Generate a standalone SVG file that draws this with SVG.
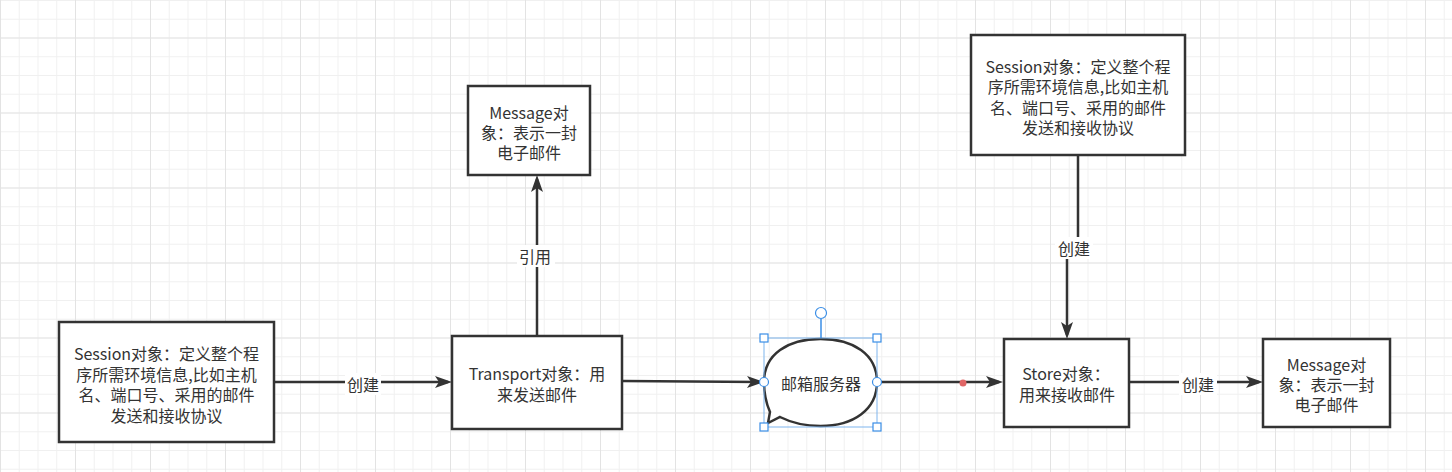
<svg xmlns="http://www.w3.org/2000/svg" width="1452" height="472" viewBox="0 0 1452 472">
<defs>
<pattern id="minor" width="18.75" height="18.75" patternUnits="userSpaceOnUse">
<path d="M0.5,0 V18.75 M0,0.5 H18.75" fill="none" stroke="#f0f0f0" stroke-width="1"/>
</pattern>
<pattern id="major" width="75" height="75" patternUnits="userSpaceOnUse" y="37.5">
<path d="M0.5,0 V75 M0,0.5 H75" fill="none" stroke="#e3e3e3" stroke-width="1"/>
</pattern>
<marker id="arr" markerUnits="userSpaceOnUse" markerWidth="18" markerHeight="14" refX="13" refY="6" orient="auto" overflow="visible">
<path d="M0,0 L17,6 L0,12 L4,6 Z" fill="#333"/>
</marker>
<style>
.box{fill:#fff;stroke:#333;stroke-width:2.5}
.t{font-family:"Microsoft YaHei","Noto Sans CJK SC","Noto Sans",sans-serif;font-size:16px;fill:#333;text-anchor:middle;dominant-baseline:central}
.edge{fill:none;stroke:#333;stroke-width:2.5}
.lbg{fill:#fff}
.sel{fill:none;stroke:#7fb5ee;stroke-width:1}
.h{fill:#fff;stroke:#3a8ee6;stroke-width:1.2}
</style>
</defs>
<rect width="1452" height="472" fill="#fff"/>
<rect width="1452" height="472" fill="url(#minor)"/>
<rect width="1452" height="472" fill="url(#major)"/>

<g id="connectors">
<path class="edge" d="M274,382 H448" marker-end="url(#arr)"/>
<rect class="lbg" x="345" y="373" width="36" height="22"/>
<text class="t" x="363" y="384">创建</text>

<path class="edge" d="M537,336 V179" marker-end="url(#arr)"/>
<rect class="lbg" x="517" y="245" width="38" height="22"/>
<text class="t" x="535" y="256">引用</text>

<path class="edge" d="M622,381 L760,382" marker-end="url(#arr)"/>

<path class="edge" d="M877,382 H999" marker-end="url(#arr)"/>
<circle cx="963" cy="383" r="3.5" fill="#e06666"/>

<path class="edge" d="M1078,155 V248 H1067 V335" marker-end="url(#arr)"/>
<rect class="lbg" x="1055" y="237" width="38" height="22"/>
<text class="t" x="1074" y="248">创建</text>

<path class="edge" d="M1129,382 H1259" marker-end="url(#arr)"/>
<rect class="lbg" x="1179" y="373" width="38" height="22"/>
<text class="t" x="1198" y="384">创建</text>
</g>

<g id="session-left">
<rect class="box" x="59" y="322" width="215" height="120"/>
<text class="t" x="166.5" y="353">Session对象：定义整个程</text>
<text class="t" x="166.5" y="373.5">序所需环境信息,比如主机</text>
<text class="t" x="166.5" y="394">名、端口号、采用的邮件</text>
<text class="t" x="166.5" y="414.5">发送和接收协议</text>
</g>

<g id="transport">
<rect class="box" x="452" y="336" width="170" height="93"/>
<text class="t" x="537" y="373">Transport对象：用</text>
<text class="t" x="537" y="394">来发送邮件</text>
</g>

<g id="message-top">
<rect class="box" x="468" y="86" width="122" height="89"/>
<text class="t" x="529" y="111.5">Message对</text>
<text class="t" x="529" y="131.5">象：表示一封</text>
<text class="t" x="529" y="151.5">电子邮件</text>
</g>

<g id="mailserver">
<path d="M764,382 C764,354 788,339 820.5,339 C853,339 877,354 877,382 C877,410 853,426 820.5,426 C806,426 792,423 780,417 L768,423 L770,412 C766,403 764,393 764,382 Z" fill="#fff" stroke="#333" stroke-width="2.5"/>
<text class="t" x="821" y="383">邮箱服务器</text>
<rect class="sel" x="764" y="338" width="113" height="89"/>
<line x1="821" y1="319" x2="821" y2="338" stroke="#3a8ee6" stroke-width="1.5"/>
<circle class="h" cx="821" cy="313" r="5.5"/>
<rect class="h" x="760" y="334" width="8" height="8"/>
<rect class="h" x="873" y="334" width="8" height="8"/>
<rect class="h" x="760" y="423" width="8" height="8"/>
<rect class="h" x="873" y="423" width="8" height="8"/>
<circle class="h" cx="764" cy="382" r="4.5"/>
<circle class="h" cx="877" cy="382" r="4.5"/>
</g>

<g id="session-right">
<rect class="box" x="971" y="35" width="214" height="120"/>
<text class="t" x="1078" y="65.5">Session对象：定义整个程</text>
<text class="t" x="1078" y="86">序所需环境信息,比如主机</text>
<text class="t" x="1078" y="106.5">名、端口号、采用的邮件</text>
<text class="t" x="1078" y="127">发送和接收协议</text>
</g>

<g id="store">
<rect class="box" x="1004" y="339" width="125" height="88"/>
<text class="t" x="1066" y="373">Store对象：</text>
<text class="t" x="1067" y="394">用来接收邮件</text>
</g>

<g id="message-right">
<rect class="box" x="1263" y="339" width="127" height="88"/>
<text class="t" x="1326.5" y="364">Message对</text>
<text class="t" x="1326.5" y="384">象：表示一封</text>
<text class="t" x="1326.5" y="404">电子邮件</text>
</g>
</svg>
